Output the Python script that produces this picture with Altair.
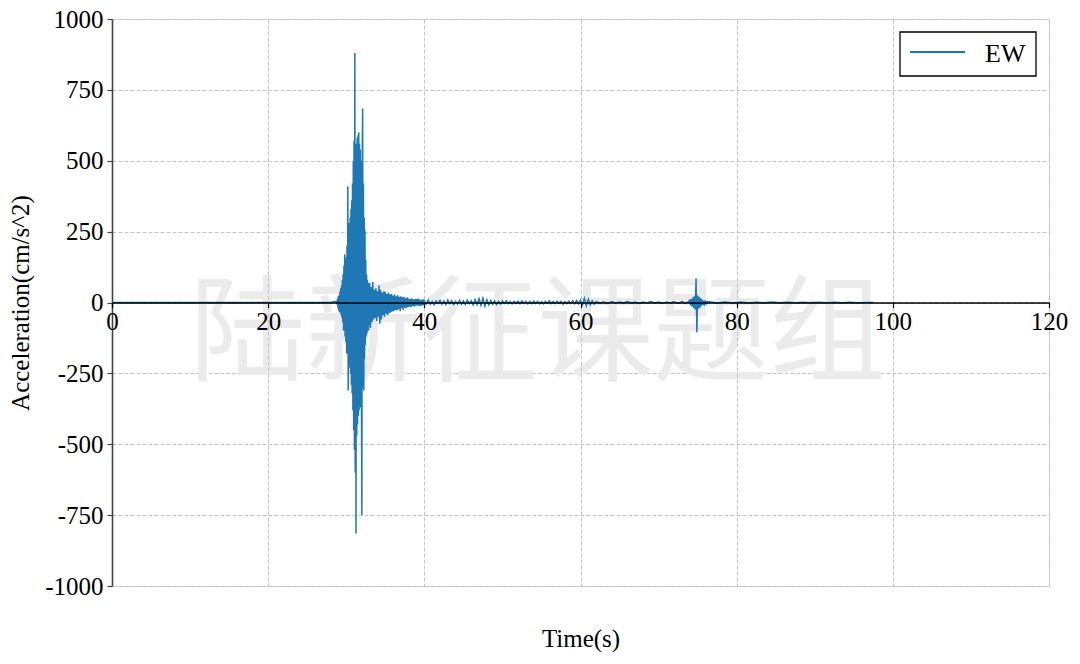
import altair as alt
import pandas as pd

# ---- data (segments of a hand-read acceleration record: start time, sample step, values) ----
pre_t0, pre_dt = 0.0, 4.0
pre_vals = [0, 0, 0, 0, 0, 0, 0, 0]

burst_t0, burst_dt = 28.8, 0.05
burst_vals = [5, -8, 15, -20, 25, -30, 20, -35, 40, -30,
              50, -45, 60, -55, 80, -70,
              100, -100, 130, -90, 170, -120, 150, -140,
              160, -180, 200, -160,
              410, -310,
              250, -200, 280, -230, 300, -250,
              330, -290, 360, -320, 420, -380,
              500, -450, 570, -520,
              880, -600, 560, -815,
              560, -470, 580, -430, 590, -400,
              600, -380, 560, -360,
              540, -370, 500, -350,
              -750, 520, 684, -300,
              420, -310, 300, -200, 254, -150,
              150, -120, 100, -110, 80, -90, 70, -100, 60, -80]

decay_t0, decay_dt = 33.0, 0.1
decay_vals = [70, -90, 55, -70, 72, -60, 45, -55, 50, -65,
              40, -50, 60, -75, 45, -60, 35, -45, 40, -50,
              38, -40, 30, -45, 35, -38, 28, -35, 30, -32,
              25, -30, 28, -26, 22, -28, 25, -24, 20, -30,
              22, -20, 18, -25, 20, -18, 15, -20, 18, -16,
              14, -15, 12, -16, 15, -12, 10, -14, 12, -11,
              12, -10, 14, -11, 10, -12, 9, -10, 11, -9]

coda_t0, coda_dt = 40.0, 0.25
coda_vals = [7, -5, 9, -6, 4, -8, 6, -3, 8, -6, 5, -7, 9, -4, 6, -7, 4, -5, 7, -6,
             5, -7, 8, -4, 6, -9, 11, -7, 13, -10, 15, -12, 10, -8, 7, -6, 5, -7, 4, -5,
             5, -3, 6, -4, 3, -5, 4, -3, 5, -4, 6, -3, 4, -5, 3, -4, 5, -3, 4, -5,
             3, -5, 4, -3, 6, -4, 3, -4, 5, -3, 4, -6, 3, -4, 5, -3, 6, -4, 7, -5,
             9, -7, 15, -11, 12, -8, 6, -5]

quiet_t0, quiet_dt = 62.0, 0.5
quiet_vals = [3, -2, 2, -3, 3, -2, 2, -2, 3, -2, 2, -3,
              2, -2, 3, -2, 2, -3, 2, -2, 3, -3, 4, -4]

after_t0, after_dt = 74.0, 0.1
after_vals = [8, -10, 12, -15, 18, -20, 22, -25, 85, -105, 25, -22,
              20, -18, 15, -12, 10, -8, 6, -5, 4, -4, 3]

tail_t0, tail_dt = 76.5, 1.0
tail_vals = [3, -2, 2, -2, 2, -2, 1, -1, 2, -1, 1, -1, 1, -1, 1, -1, 1, -1, 1, -1, 0, 0]

series_name = "EW"
x_ticks = [0, 20, 40, 60, 80, 100, 120]
y_ticks = [-1000, -750, -500, -250, 0, 250, 500, 750, 1000]
watermark = "陆新征课题组"

segments = [(pre_t0, pre_dt, pre_vals), (burst_t0, burst_dt, burst_vals),
            (decay_t0, decay_dt, decay_vals), (coda_t0, coda_dt, coda_vals),
            (quiet_t0, quiet_dt, quiet_vals), (after_t0, after_dt, after_vals),
            (tail_t0, tail_dt, tail_vals)]
rows = []
for t0, dt, vals in segments:
    for i, v in enumerate(vals):
        rows.append({"time": round(t0 + i * dt, 3), "acc": v, "series": series_name})
df = pd.DataFrame(rows)

FONT = "Liberation Serif"
LINE_COLOR = "#1f77b4"

xscale = alt.Scale(domain=[0, 120], nice=False, zero=False)
yscale = alt.Scale(domain=[-1000, 1000], nice=False)
plain_label = "'' + datum.value"

xaxis = alt.Axis(values=x_ticks, labelExpr=plain_label, offset=-283.5, title="Time(s)",
                 titleY=336, titleBaseline="middle", titleFontSize=25, titleFontWeight="normal",
                 titleFont=FONT, titleColor="black",
                 labelFont=FONT, labelFontSize=25, labelColor="black", labelFlush=False,
                 labelOverlap=False, labelPadding=2,
                 domainColor="black", domainWidth=1.6, tickColor="black", tickSize=5, tickWidth=1.2,
                 grid=True, gridDash=[4, 2], gridColor="#c4c4c4", gridWidth=1, zindex=1,
                 gridOpacity={"condition": {"test": "datum.value === 0", "value": 0}, "value": 1})
yaxis = alt.Axis(values=y_ticks, labelExpr=plain_label, title="Acceleration(cm/s^2)",
                 titleFontSize=25, titleFontWeight="normal", titleFont=FONT, titleColor="black",
                 titlePadding=11,
                 labelFont=FONT, labelFontSize=25, labelColor="black", labelFlush=False,
                 labelOverlap=False, labelPadding=4,
                 domainColor="#444444", domainWidth=1.6, tickColor="#444444", tickSize=5, tickWidth=1.2,
                 grid=True, gridDash=[4, 2], gridColor="#c4c4c4", gridWidth=1)

wm_df = pd.DataFrame({"time": [54.5], "acc": [-123], "label": [watermark]})
wm = alt.Chart(wm_df).mark_text(font="Noto Sans CJK SC", fontSize=116, color="#ebebeb",
                                 align="center", baseline="middle").encode(
    x=alt.X("time:Q", scale=xscale, axis=xaxis),
    y=alt.Y("acc:Q", scale=yscale, axis=yaxis),
    text="label:N")

line = alt.Chart(df).mark_line(strokeWidth=1.5, color=LINE_COLOR).encode(
    x=alt.X("time:Q", scale=xscale, axis=xaxis),
    y=alt.Y("acc:Q", scale=yscale, axis=yaxis),
    detail="series:N")

# legend box (drawn as marks so its size matches the reference)
leg_df = pd.DataFrame({"series": [series_name]})
leg_box = alt.Chart(leg_df).mark_rect(fill="white", stroke="black", strokeWidth=1.3).encode(
    x=alt.value(788), x2=alt.value(924), y=alt.value(13), y2=alt.value(57))
leg_line = alt.Chart(leg_df).mark_rule(color=LINE_COLOR, strokeWidth=2).encode(
    x=alt.value(798), x2=alt.value(853), y=alt.value(33))
leg_text = alt.Chart(leg_df).mark_text(font=FONT, fontSize=26, color="black",
                                       align="left", baseline="middle").encode(
    x=alt.value(873), y=alt.value(35), text="series:N")

chart = alt.layer(wm, line, leg_box, leg_line, leg_text).properties(
    width=937, height=567,
    autosize=alt.AutoSizeParams(type="none"),
    padding={"left": 104, "top": 11, "right": 23, "bottom": 70},
).configure_view(stroke=None).configure(font=FONT)

chart.save("out.html", embed_options={"renderer": "svg", "actions": False})
